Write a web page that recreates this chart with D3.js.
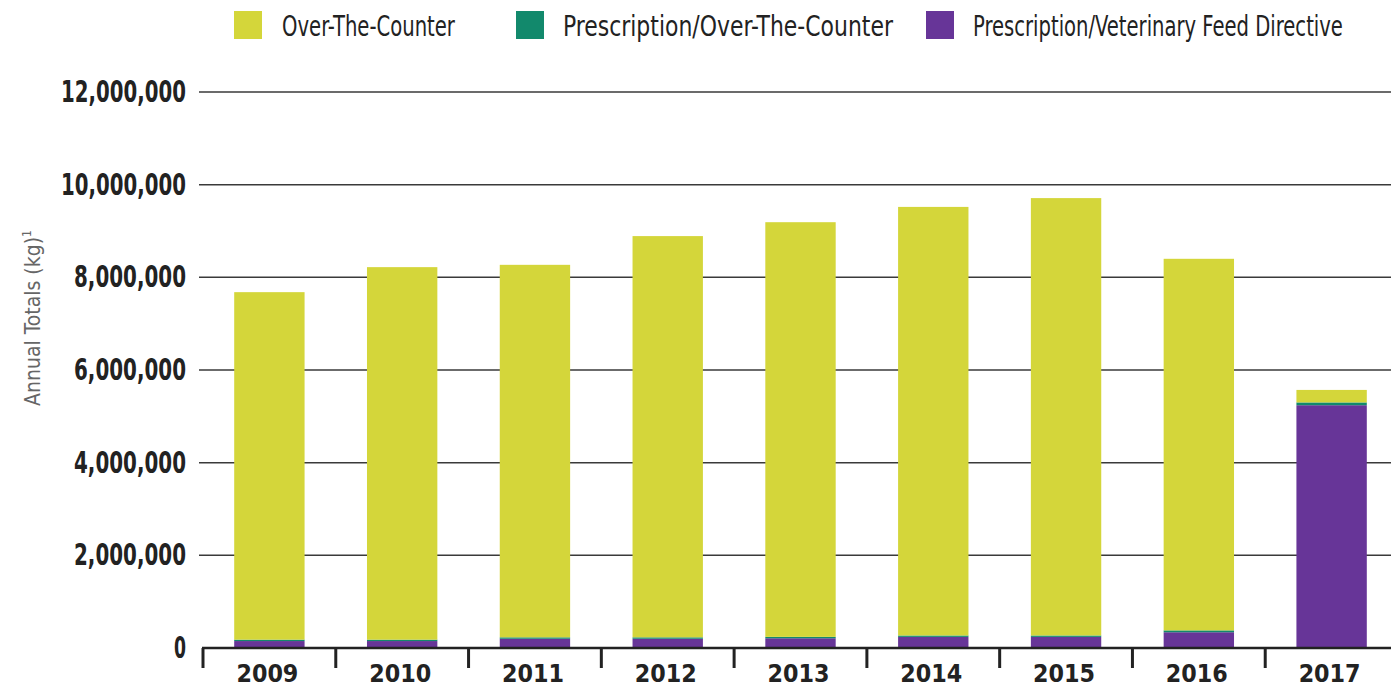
<!DOCTYPE html>
<html>
<head>
<meta charset="utf-8">
<script src="https://cdn.jsdelivr.net/npm/d3@7"></script>
<style>
  body { margin: 0; background: #fff; }
  text { font-family: "Liberation Sans Narrow", "DejaVu Sans Condensed", "Roboto", sans-serif; }
</style>
</head>
<body>
<div id="chart"></div>
<script>
// Data (kg, in millions)
const years = ["2009", "2010", "2011", "2012", "2013", "2014", "2015", "2016", "2017"];
const vfd = [0.15, 0.15, 0.20, 0.20, 0.21, 0.24, 0.24, 0.34, 5.24];
const rxOtc = [0.03, 0.03, 0.03, 0.03, 0.03, 0.03, 0.03, 0.04, 0.06];
const otc = [7.50, 8.04, 8.04, 8.66, 8.95, 9.25, 9.44, 8.02, 0.27];
const yTicks = [0, 2, 4, 6, 8, 10, 12];

const keys = ["vfd", "rxOtc", "otc"];
const labels = {
    otc: "Over-The-Counter",
    rxOtc: "Prescription/Over-The-Counter",
    vfd: "Prescription/Veterinary Feed Directive"
};
const colors = { otc: "#d4d63a", rxOtc: "#12896c", vfd: "#673598" };

const rows = years.map((y, i) => ({ year: y, vfd: vfd[i] * 1e6, rxOtc: rxOtc[i] * 1e6, otc: otc[i] * 1e6 }));

const width = 1391, height = 688;

const svg = d3.select("#chart")
    .append("svg")
    .attr("width", width)
    .attr("height", height);

// Scales
const x = d3.scaleBand()
    .domain(years)
    .range([203, 1398])
    .paddingInner(0.47)
    .paddingOuter(0.235);

const y = d3.scaleLinear()
    .domain([0, 12e6])
    .range([648, 92]);

// squeeze a text horizontally to a target width (condensed look)
function squeeze(sel, x0, y0, targetW, anchor) {
    sel.each(function() {
        const w = this.getComputedTextLength();
        const k = Math.min(1, targetW / w);
        d3.select(this).attr("transform", `translate(${x0},${y0}) scale(${k},1)`);
    });
}

// Gridlines
svg.append("g")
    .selectAll("line")
    .data(yTicks.filter(d => d > 0))
    .enter().append("line")
    .attr("x1", 199)
    .attr("x2", width)
    .attr("y1", d => y(d * 1e6))
    .attr("y2", d => y(d * 1e6))
    .attr("stroke", "#3a3a3a")
    .attr("stroke-width", 1.5);

// Y tick labels
svg.append("g")
    .selectAll("text")
    .data(yTicks)
    .enter().append("text")
    .attr("text-anchor", "end")
    .attr("font-size", 30)
    .attr("font-weight", "bold")
    .attr("fill", "#222")
    .text(d => d3.format(",")(d * 1e6))
    .each(function(d) {
        squeeze(d3.select(this), 186, y(d * 1e6) + 10, d === 0 ? 12 : (d >= 10 ? 125 : 112));
    });

// Stacked bars
const stacked = d3.stack().keys(keys)(rows);

svg.append("g")
    .selectAll("g")
    .data(stacked)
    .enter().append("g")
    .attr("fill", d => colors[d.key])
    .selectAll("rect")
    .data(d => d)
    .enter().append("rect")
    .attr("x", d => x(d.data.year))
    .attr("y", d => y(d[1]))
    .attr("width", x.bandwidth())
    .attr("height", d => y(d[0]) - y(d[1]));

// X axis
const step = x.step();
const xAxis = svg.append("g");
xAxis.append("line")
    .attr("x1", 202)
    .attr("x2", width)
    .attr("y1", y(0))
    .attr("y2", y(0))
    .attr("stroke", "#222")
    .attr("stroke-width", 2.5);

xAxis.selectAll(".tick")
    .data(years)
    .enter().append("line")
    .attr("class", "tick")
    .attr("x1", d => x(d) - step * 0.235)
    .attr("x2", d => x(d) - step * 0.235)
    .attr("y1", y(0))
    .attr("y2", y(0) + 20)
    .attr("stroke", "#222")
    .attr("stroke-width", 3);

xAxis.selectAll(".xlabel")
    .data(years)
    .enter().append("text")
    .attr("class", "xlabel")
    .attr("text-anchor", "middle")
    .attr("font-size", 25)
    .attr("font-weight", "bold")
    .attr("fill", "#222")
    .text(d => d)
    .each(function(d) {
        squeeze(d3.select(this), x(d) + x.bandwidth() / 2 - 2, 682, 62);
    });

// Y axis title
const yTitle = svg.append("text")
    .attr("transform", "translate(40,318) rotate(-90)")
    .attr("text-anchor", "middle")
    .attr("font-size", 21)
    .attr("fill", "#666");
yTitle.append("tspan").text("Annual Totals (kg)");
yTitle.append("tspan").attr("font-size", 12).attr("dy", -9).text("1");

// Legend
const legendItems = [
    { key: "otc", sx: 234, tx: 282, tw: 173 },
    { key: "rxOtc", sx: 516, tx: 563, tw: 330 },
    { key: "vfd", sx: 926, tx: 973, tw: 370 }
];

const legend = svg.append("g");
legend.selectAll("rect")
    .data(legendItems)
    .enter().append("rect")
    .attr("x", d => d.sx)
    .attr("y", 11)
    .attr("width", 28)
    .attr("height", 28)
    .attr("fill", d => colors[d.key]);

legend.selectAll("text")
    .data(legendItems)
    .enter().append("text")
    .attr("font-size", 28)
    .attr("fill", "#222")
    .text(d => labels[d.key])
    .each(function(d) {
        squeeze(d3.select(this), d.tx, 36, d.tw);
    });
</script>
</body>
</html>
